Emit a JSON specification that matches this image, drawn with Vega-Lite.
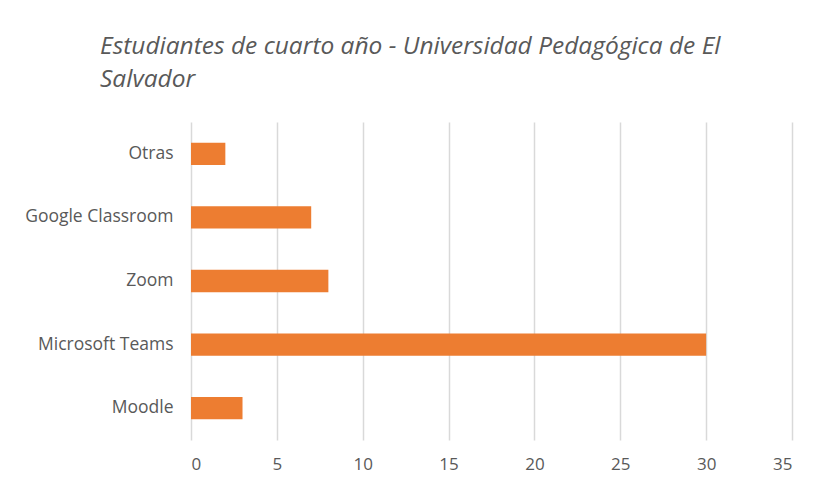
{
  "$schema": "https://vega.github.io/schema/vega-lite/v6.json",
  "autosize": {"type": "none"},
  "padding": {"left": 191, "top": 122, "right": 28, "bottom": 43},
  "width": 601,
  "height": 318,
  "background": "white",
  "title": {
    "text": ["Estudiantes de cuarto año - Universidad Pedagógica de El", "Salvador"],
    "anchor": "start",
    "frame": "group",
    "dx": -91,
    "offset": 30,
    "font": "Open Sans",
    "fontStyle": "italic",
    "fontWeight": "normal",
    "fontSize": 24.5,
    "lineHeight": 33,
    "color": "#595959"
  },
  "data": {
    "values": [
      {"plataforma": "Otras", "n": 2},
      {"plataforma": "Google Classroom", "n": 7},
      {"plataforma": "Zoom", "n": 8},
      {"plataforma": "Microsoft Teams", "n": 30},
      {"plataforma": "Moodle", "n": 3}
    ]
  },
  "mark": {"type": "bar", "color": "#ED7D31"},
  "encoding": {
    "y": {
      "field": "plataforma",
      "type": "nominal",
      "sort": null,
      "scale": {"paddingInner": 0.65, "paddingOuter": 0.325},
      "axis": {
        "title": null,
        "domain": false,
        "ticks": false,
        "labelPadding": 18,
        "labelFont": "Open Sans",
        "labelFontSize": 17.5,
        "labelColor": "#595959"
      }
    },
    "x": {
      "field": "n",
      "type": "quantitative",
      "scale": {"domain": [0, 35], "nice": false},
      "axis": {
        "title": null,
        "values": [0, 5, 10, 15, 20, 25, 30, 35],
        "domain": false,
        "ticks": false,
        "grid": true,
        "gridColor": "#D9D9D9",
        "gridWidth": 1.5,
        "labelPadding": 16,
        "labelFont": "Open Sans",
        "labelFontSize": 17,
        "labelColor": "#595959"
      }
    }
  },
  "config": {"view": {"stroke": null}}
}
